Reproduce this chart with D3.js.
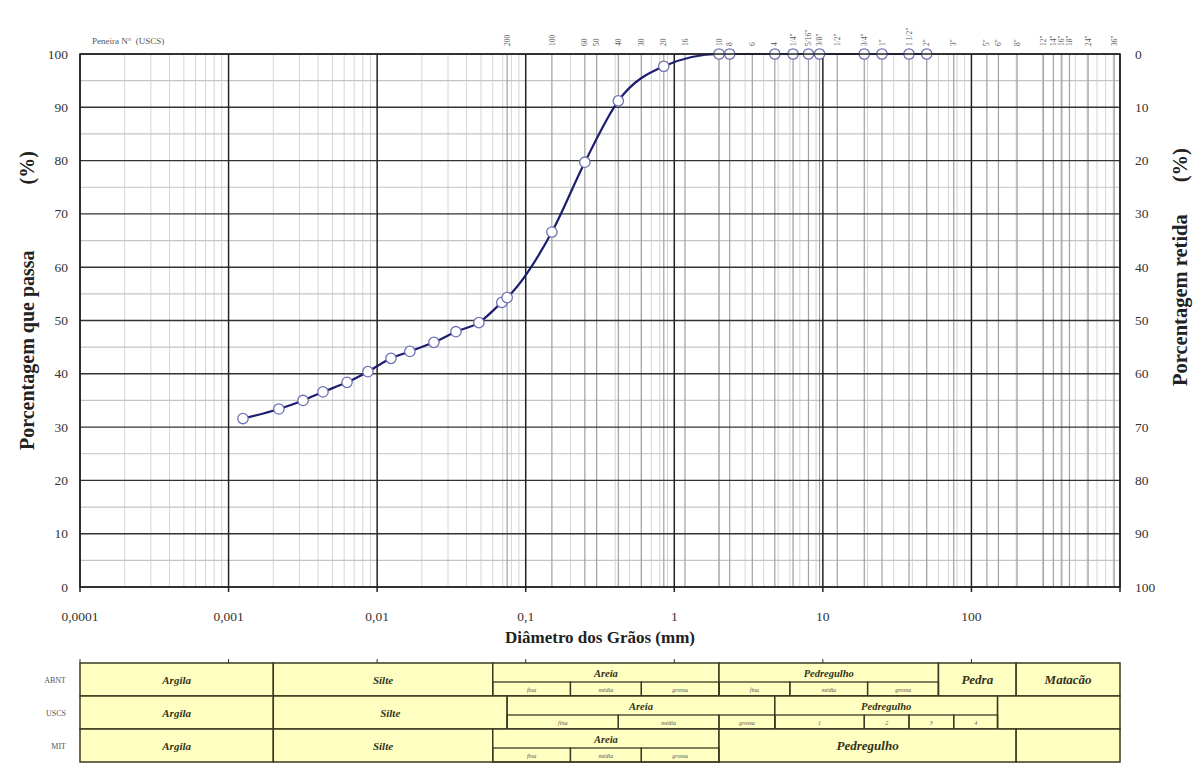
<!DOCTYPE html>
<html>
<head>
<meta charset="utf-8">
<script src="https://cdn.jsdelivr.net/npm/d3@7"></script>
<style>
  body { margin: 0; background: #fff; }
  text { font-family: "Liberation Serif", "DejaVu Serif", serif; }
</style>
</head>
<body>
<div id="chart"></div>
<script>
// grain size curve (diameter mm, % passing)
var diameters = [0.00125, 0.00218, 0.00317, 0.00432, 0.00627, 0.00867, 0.0124, 0.0166, 0.0241, 0.0339, 0.0484, 0.069, 0.075,
  0.15, 0.25, 0.42, 0.85, 2.0, 2.36, 4.75, 6.3, 8.0, 9.5, 19, 25, 38, 50];
var passing = [31.6, 33.4, 35.0, 36.6, 38.4, 40.4, 42.9, 44.2, 45.9, 47.9, 49.6, 53.4, 54.3,
  66.6, 79.7, 91.2, 97.7, 100, 100, 100, 100, 100, 100, 100, 100, 100, 100];

var xTicks = [0.0001, 0.001, 0.01, 0.1, 1, 10, 100];
var xTickLabels = ["0,0001", "0,001", "0,01", "0,1", "1", "10", "100"];
var yTicks = [0, 10, 20, 30, 40, 50, 60, 70, 80, 90, 100];

// sieve openings (mm) and names
var sieveSizes = [0.075, 0.15, 0.25, 0.3, 0.42, 0.6, 0.85, 1.18, 2.0, 2.36, 3.35, 4.75, 6.3, 8.0, 9.5, 12.5, 19, 25, 38, 50,
  76, 127, 152, 203, 305, 356, 406, 457, 610, 914];
var sieveNames = ["200", "100", "60", "50", "40", "30", "20", "16", "10", "8", "6", "4", "1/4\"", "5/16\"", "3/8\"", "1/2\"", "3/4\"", "1\"", "1 1/2\"", "2\"",
  "3\"", "5\"", "6\"", "8\"", "12\"", "14\"", "16\"", "18\"", "24\"", "36\""];

// classification table: [from mm, to mm, label]
var tableRows = ["ABNT", "USCS", "MIT"];
var abntMain = [[0.0001, 0.002, "Argila"], [0.002, 0.06, "Silte"], [0.06, 2, "Areia"], [2, 60, "Pedregulho"], [60, 200, "Pedra"], [200, 1000, "Matacão"]];
var abntSub = [[0.06, 0.2, "fina"], [0.2, 0.6, "média"], [0.6, 2, "grossa"], [2, 6, "fina"], [6, 20, "média"], [20, 60, "grossa"]];
var uscsMain = [[0.0001, 0.002, "Argila"], [0.002, 0.075, "Silte"], [0.075, 4.75, "Areia"], [4.75, 150, "Pedregulho"], [150, 1000, ""]];
var uscsSub = [[0.075, 0.42, "fina"], [0.42, 2, "média"], [2, 4.75, "grossa"], [4.75, 19, "1"], [19, 38, "2"], [38, 76, "3"], [76, 150, "4"]];
var mitMain = [[0.0001, 0.002, "Argila"], [0.002, 0.06, "Silte"], [0.06, 2, "Areia"], [2, 200, "Pedregulho"], [200, 1000, ""]];
var mitSub = [[0.06, 0.2, "fina"], [0.2, 0.6, "média"], [0.6, 2, "grossa"]];

var W = 1199, H = 763;
var pL = 80, pR = 1120, pT = 54, pB = 587;

var svg = d3.select("#chart").append("svg")
  .attr("width", W)
  .attr("height", H);

var x = d3.scaleLog().domain([0.0001, 1000]).range([pL, pR]);
var y = d3.scaleLinear().domain([0, 100]).range([pB, pT]);

var grid = svg.append("g");

// minor vertical grid
var minor = [];
for (var k = -4; k < 3; k++) {
  for (var m = 2; m < 10; m++) {
    minor.push(m * Math.pow(10, k));
  }
}
grid.selectAll(".minor").data(minor).enter().append("line")
  .attr("x1", function(d) { return x(d); })
  .attr("x2", function(d) { return x(d); })
  .attr("y1", pT).attr("y2", pB)
  .attr("stroke", "#d4d4d4").attr("stroke-width", 1);

// horizontal grid
grid.selectAll(".hminor").data(d3.range(5, 100, 10)).enter().append("line")
  .attr("x1", pL).attr("x2", pR)
  .attr("y1", function(d) { return y(d); })
  .attr("y2", function(d) { return y(d); })
  .attr("stroke", "#c4c4c4").attr("stroke-width", 1.2);

// sieve lines
grid.selectAll(".sieve").data(sieveSizes).enter().append("line")
  .attr("x1", function(d) { return x(d); })
  .attr("x2", function(d) { return x(d); })
  .attr("y1", pT).attr("y2", pB)
  .attr("stroke", "#a0a0a0").attr("stroke-width", 1.2);

grid.selectAll(".hmajor").data(yTicks).enter().append("line")
  .attr("x1", pL).attr("x2", pR)
  .attr("y1", function(d) { return y(d); })
  .attr("y2", function(d) { return y(d); })
  .attr("stroke", "#333").attr("stroke-width", 1.4);

grid.selectAll(".decade").data(xTicks.concat([1000])).enter().append("line")
  .attr("x1", function(d) { return x(d); })
  .attr("x2", function(d) { return x(d); })
  .attr("y1", pT).attr("y2", pB + 5)
  .attr("stroke", "#222").attr("stroke-width", 1.5);

// sieve names on top
svg.selectAll(".sname").data(sieveSizes).enter().append("text")
  .attr("transform", function(d) { return "translate(" + x(d) + ",46) rotate(-90)"; })
  .attr("dy", "0.35em")
  .attr("font-size", 7.5)
  .attr("fill", "#555")
  .text(function(d, i) { return sieveNames[i]; });

svg.append("text")
  .attr("x", 92).attr("y", 44)
  .attr("font-size", 9).attr("fill", "#555")
  .style("white-space", "pre")
  .text("Peneira N°  (USCS)");

// axes labels
svg.selectAll(".ylab").data(yTicks).enter().append("text")
  .attr("x", 68).attr("y", function(d) { return y(d) + 4.5; })
  .attr("text-anchor", "end").attr("font-size", 13.5).attr("fill", "#333")
  .text(function(d) { return d; });

svg.selectAll(".rlab").data(yTicks).enter().append("text")
  .attr("x", 1135).attr("y", function(d) { return y(d) + 4.5; })
  .attr("font-size", 13.5).attr("fill", "#333")
  .text(function(d) { return 100 - d; });

svg.selectAll(".xlab").data(xTicks).enter().append("text")
  .attr("x", function(d) { return x(d); }).attr("y", 621)
  .attr("text-anchor", "middle").attr("font-size", 13.5).attr("fill", "#333")
  .text(function(d, i) { return xTickLabels[i]; });

svg.append("text")
  .attr("x", 600).attr("y", 643)
  .attr("text-anchor", "middle").attr("font-size", 17).attr("font-weight", "bold").attr("fill", "#222")
  .text("Diâmetro dos Grãos (mm)");

var yTitleL = svg.append("text")
  .attr("transform", "translate(27,450) rotate(-90)")
  .attr("dy", "0.35em")
  .attr("font-size", 20).attr("font-weight", "bold").attr("fill", "#222");
yTitleL.append("tspan").text("Porcentagem que passa");
yTitleL.append("tspan").attr("dx", 66).text("(%)");

var yTitleR = svg.append("text")
  .attr("transform", "translate(1180,386) rotate(-90)")
  .attr("dy", "0.35em")
  .attr("font-size", 20.5).attr("font-weight", "bold").attr("fill", "#222");
yTitleR.append("tspan").text("Porcentagem retida");
yTitleR.append("tspan").attr("dx", 32).text("(%)");

// curve
var pts = diameters.map(function(d, i) { return [d, passing[i]]; });
var line = d3.line()
  .x(function(d) { return x(d[0]); })
  .y(function(d) { return y(d[1]); })
  .curve(d3.curveMonotoneX);

svg.append("path")
  .datum(pts)
  .attr("d", line)
  .attr("fill", "none")
  .attr("stroke", "#1c1c70")
  .attr("stroke-width", 2.2);

svg.selectAll(".pt").data(pts).enter().append("circle")
  .attr("cx", function(d) { return x(d[0]); })
  .attr("cy", function(d) { return y(d[1]); })
  .attr("r", 5.2)
  .attr("fill", "#fff")
  .attr("stroke", "#7070b4")
  .attr("stroke-width", 1.3);

// classification table
var ty = 663, rh = 33, sh = 14;
var tbl = svg.append("g");
var mains = [abntMain, uscsMain, mitMain];
var subs = [abntSub, uscsSub, mitSub];

tbl.selectAll(".tick").data(xTicks).enter().append("line")
  .attr("x1", function(d) { return x(d); }).attr("x2", function(d) { return x(d); })
  .attr("y1", ty - 4).attr("y2", ty)
  .attr("stroke", "#333");

for (var r = 0; r < 3; r++) {
  var y0 = ty + r * rh;
  var hasSub = {};
  subs[r].forEach(function(s) { hasSub[s[0]] = true; });

  tbl.append("text")
    .attr("x", 66).attr("y", y0 + rh / 2 + 3)
    .attr("text-anchor", "end").attr("font-size", 8).attr("fill", "#555")
    .text(tableRows[r]);

  tbl.selectAll(".cell" + r).data(mains[r]).enter().append("rect")
    .attr("x", function(d) { return x(d[0]); })
    .attr("y", y0)
    .attr("width", function(d) { return x(d[1]) - x(d[0]); })
    .attr("height", rh)
    .attr("fill", "#ffffc2")
    .attr("stroke", "#3a3a22").attr("stroke-width", 1.5);

  tbl.selectAll(".sub" + r).data(subs[r]).enter().append("rect")
    .attr("x", function(d) { return x(d[0]); })
    .attr("y", y0 + rh - sh)
    .attr("width", function(d) { return x(d[1]) - x(d[0]); })
    .attr("height", sh)
    .attr("fill", "none")
    .attr("stroke", "#3a3a22").attr("stroke-width", 1.3);

  tbl.selectAll(".sublab" + r).data(subs[r]).enter().append("text")
    .attr("x", function(d) { return (x(d[0]) + x(d[1])) / 2; })
    .attr("y", y0 + rh - 4)
    .attr("text-anchor", "middle").attr("font-size", 6).attr("font-style", "italic").attr("fill", "#555")
    .text(function(d) { return d[2]; });

  tbl.selectAll(".lab" + r).data(mains[r]).enter().append("text")
    .attr("x", function(d) { return (x(d[0]) + x(d[1])) / 2; })
    .attr("y", function(d) {
      return hasSub[d[0]] ? y0 + (rh - sh) / 2 + 4 : y0 + rh / 2 + 4;
    })
    .attr("text-anchor", "middle")
    .attr("font-size", function(d) {
      if (hasSub[d[0]]) return 10.5;
      return d[2] == "Argila" || d[2] == "Silte" ? 11 : 13;
    })
    .attr("font-style", "italic").attr("font-weight", "bold")
    .attr("fill", "#33331a")
    .text(function(d) { return d[2]; });
}

// plot frame
svg.append("rect")
  .attr("x", pL).attr("y", pT)
  .attr("width", pR - pL).attr("height", pB - pT)
  .attr("fill", "none").attr("stroke", "#222").attr("stroke-width", 1.5);
</script>
</body>
</html>
